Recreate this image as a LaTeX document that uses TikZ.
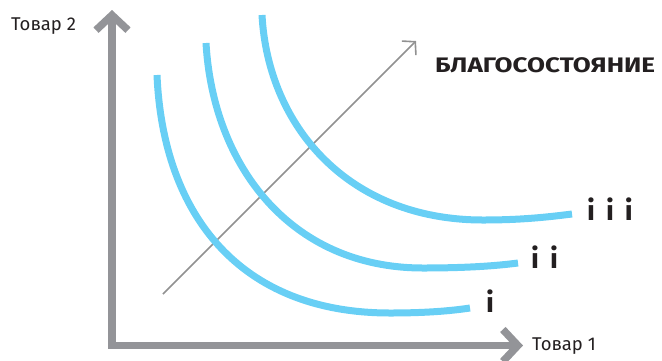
\documentclass[tikz,border=0pt]{standalone}
\usepackage{fontspec}
\setmainfont{Fira Sans}
\usetikzlibrary{arrows.meta}
\definecolor{curveblue}{RGB}{104, 207, 245}
\definecolor{axisgray}{RGB}{147, 148, 152}
\definecolor{linegray}{RGB}{145, 145, 145}
\definecolor{inkblack}{RGB}{35, 31, 32}

\begin{document}
\begin{tikzpicture}[x=1pt, y=-1pt,
    axis/.style={axisgray, line width=7.5pt,
                 {Straight Barb[length=15pt, width=32pt]}-{Straight Barb[length=15pt, width=32pt]}},
    level/.style={curveblue, line width=7pt},
    growth/.style={linegray, line width=1.6pt, -{Straight Barb[length=9pt, width=20pt]}},
    axlbl/.style={font=\fontsize{18.5}{20}\selectfont, text=inkblack, inner sep=0pt, anchor=base west},
    hand/.style={font=\fontsize{28}{30}\selectfont\bfseries, text=inkblack, inner sep=0pt, anchor=base west}
]
\useasboundingbox (0,0) rectangle (662,360);

% axes
\coordinate (ytip)   at (112, 10);
\coordinate (origin) at (112, 345.5);
\coordinate (xtip)   at (523, 345.5);
\draw[axis] (ytip) -- (origin) -- (xtip);

\node[axlbl] (good2) at (11, 30)  {Товар 2};
\node[axlbl] (good1) at (532, 350) {Товар 1};

% growth direction
\coordinate (wbase) at (163, 294);
\coordinate (wtip)  at (416, 41);
\draw[growth] (wbase) -- (wtip);
\node[axlbl, font=\fontsize{21}{23}\selectfont\bfseries] (welfare) at (435, 72)
     {\scalebox{1.24}[1]{БЛАГОСОСТОЯНИЕ}};

% indifference curves
\draw[level] (157, 75) .. controls (163, 215) and (240, 313) .. (390, 313)
             .. controls (425, 313) and (450, 311) .. (470, 308);
\draw[level] (206, 43) .. controls (213, 165) and (290, 268) .. (423, 268)
             .. controls (465, 268) and (495, 266) .. (518, 263);
\draw[level] (262, 15) .. controls (268, 126) and (348, 220) .. (483, 220)
             .. controls (522, 220) and (548, 217) .. (572, 214);

\node[hand] (lvl1) at (486, 312) {i};
\node[hand] (lvl2) at (531, 268) {i\hspace{11pt}i};
\node[hand] (lvl3) at (587, 220) {i\hspace{11pt}i\hspace{11pt}i};
\end{tikzpicture}
\end{document}
